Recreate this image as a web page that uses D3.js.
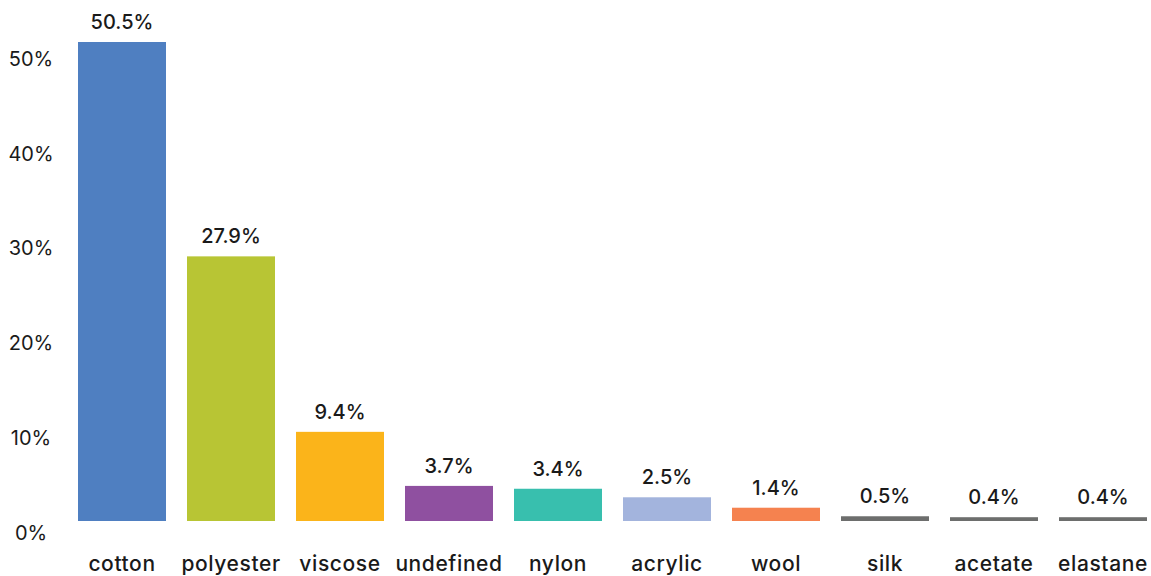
<!DOCTYPE html>
<html>
<head>
<meta charset="utf-8">
<script src="https://cdn.jsdelivr.net/npm/d3@7"></script>
<style>
  html, body { margin: 0; padding: 0; background: #fff; }
  svg { display: block; }
  text { font-family: Inter, "Open Sans", sans-serif; fill: #1a1a1a; }
</style>
</head>
<body>
<svg id="chart" width="1151" height="576"></svg>
<script>
// Fibre composition shares (%)
const categories = ["cotton", "polyester", "viscose", "undefined", "nylon", "acrylic", "wool", "silk", "acetate", "elastane"];
const shares = [50.5, 27.9, 9.4, 3.7, 3.4, 2.5, 1.4, 0.5, 0.4, 0.4];
const colors = ["#4f7fc1", "#b8c534", "#fbb41a", "#8f50a0", "#38bfae", "#a3b4dd", "#f5824f", "#6d6e6d", "#6d6e6d", "#6d6e6d"];
const yTicks = [0, 10, 20, 30, 40, 50];

const svg = d3.select("#chart");
const font = "Inter, 'Open Sans', sans-serif";

const x = d3.scaleBand()
  .domain(categories)
  .range([78, 1147])
  .paddingInner(21 / 109)
  .paddingOuter(0);

const y = d3.scaleLinear()
  .domain([0, 50.5])
  .range([521, 42]);

// Bars
svg.append("g")
  .selectAll("rect")
  .data(categories)
  .join("rect")
  .attr("x", d => x(d))
  .attr("width", x.bandwidth())
  .attr("y", (d, i) => y(shares[i]))
  .attr("height", (d, i) => y(0) - y(shares[i]))
  .attr("fill", (d, i) => colors[i]);

// Value labels
svg.append("g")
  .selectAll("text")
  .data(categories)
  .join("text")
  .attr("x", d => x(d) + x.bandwidth() / 2)
  .attr("y", (d, i) => y(shares[i]) - 13)
  .attr("text-anchor", "middle")
  .style("font-size", "20px")
  .style("font-weight", 500)
  .text((d, i) => shares[i].toFixed(1) + "%");

// Y axis (labels only, no line)
const yAxis = svg.append("g")
  .attr("transform", "translate(31,12)")
  .call(d3.axisLeft(y).tickValues(yTicks).tickSize(0).tickPadding(0).tickFormat(d => d + "%"));
yAxis.select(".domain").remove();
yAxis.selectAll("text")
  .attr("text-anchor", "middle")
  .attr("x", 0)
  .style("font-size", "20px")
  .style("font-family", font)
  .attr("fill", "#1a1a1a");

// X axis (category labels)
const xAxis = svg.append("g")
  .attr("transform", "translate(0,521)")
  .call(d3.axisBottom(x).tickSize(0).tickPadding(0));
xAxis.select(".domain").remove();
xAxis.selectAll("text")
  .attr("dy", null)
  .attr("y", 50)
  .style("font-size", "21px")
  .style("font-weight", 500)
  .style("letter-spacing", "0.6px")
  .style("font-family", font)
  .attr("fill", "#1a1a1a");
</script>
</body>
</html>
